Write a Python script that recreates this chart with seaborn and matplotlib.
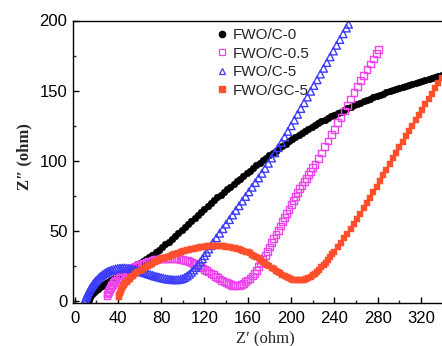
import matplotlib
matplotlib.use("Agg")
import matplotlib.pyplot as plt
import seaborn as sns
import pandas as pd
from matplotlib.lines import Line2D

# ---------------- data ----------------
c0_x = [13, 13.5, 14, 15, 16, 17, 18, 19, 20, 21, 22, 23.5, 25, 26.5, 28, 29.5, 31, 32.5, 34, 35.5,
        37, 38.5, 40, 42, 44, 46, 48, 50, 52, 54, 56, 58, 60, 63, 66, 69, 72, 75, 78, 81, 84, 87,
        90, 93, 96, 99, 102, 105, 108, 111, 114, 117, 120, 123, 126, 129, 132, 135, 138, 141, 144,
        147, 150, 153, 156, 159, 162, 165, 168, 171, 174, 177, 180, 183, 186, 189, 192, 195, 198,
        201, 204, 207, 210, 213, 216, 219, 222, 225, 228, 231, 234, 237, 240, 243, 246, 249, 252,
        255, 258, 261, 264, 267, 270, 273, 276, 279, 282, 285, 288, 291, 294, 297, 300, 303, 306,
        309, 312, 315, 318, 321, 324, 327, 330, 333, 336, 339]
c0_y = [1, 2, 3, 4, 4.8, 5.6, 6.3, 7, 7.6, 8.2, 8.8, 9.6, 10.4, 11.2, 12, 12.8, 13.5, 14.3, 15, 15.7,
        16.4, 17.1, 17.8, 18.8, 19.7, 20.6, 21.5, 22.4, 23.3, 24.2, 25.1, 26, 27, 28.4, 29.8, 31.3,
        32.9, 34.6, 36.4, 38.3, 40.3, 42.4, 44.5, 46.6, 48.7, 50.8, 52.9, 55, 57.1, 59.2, 61.3, 63.4,
        65.5, 67.6, 69.7, 71.8, 73.8, 75.8, 77.8, 79.7, 81.6, 83.5, 85.4, 87.3, 89.2, 91.1, 93, 94.8,
        96.6, 98.4, 100.2, 102, 103.8, 105.5, 107.2, 108.9, 110.6, 112.2, 113.8, 115.4, 116.9,
        118.4, 119.9, 121.3, 122.7, 124.1, 125.4, 126.7, 128, 129.3, 130.5, 131.7, 132.9, 134,
        135.1, 136.2, 137.3, 138.4, 139.4, 140.4, 141.4, 142.4, 143.4, 144.3, 145.2, 146.1, 147,
        147.9, 148.7, 149.5, 150.3, 151.1, 151.9, 152.7, 153.5, 154.2, 154.9, 155.6, 156.3, 157,
        157.7, 158.4, 159.1, 159.8, 160.5, 161.2]

c05_x = [30, 30.5, 31, 31.5, 32, 33, 34, 35, 36, 37, 38, 39.5, 41, 42.5, 44, 46, 48, 50, 52, 54,
         56, 58, 60, 62, 64, 66, 68, 70, 72, 74, 76, 78, 80, 82, 84, 86, 88, 90, 92, 94, 96, 98,
         100, 102, 104, 106, 108, 110, 112, 114, 116, 118, 120, 122, 124, 126, 128, 130, 132, 134,
         136, 138, 140, 142, 144, 146, 148, 150, 152, 154, 156, 158, 160, 162, 164, 166, 168, 170,
         172, 174, 176, 178, 180, 182, 184, 186, 188, 190, 192, 194, 196, 198, 200, 202, 204, 206,
         208, 210, 212, 214, 216, 218, 220, 222, 225, 228, 231, 234, 237, 240, 243, 246, 249, 252,
         255, 258, 261, 264, 267, 270, 273, 276, 279, 281]
c05_y = [4, 5, 6, 7, 8, 9.5, 10.8, 12, 13, 14, 14.9, 16, 17, 18, 18.9, 20, 21, 22, 22.9, 23.7,
         24.4, 25.1, 25.8, 26.4, 27, 27.5, 28, 28.5, 28.9, 29.3, 29.6, 29.9, 30.1, 30.3, 30.4, 30.5,
         30.5, 30.5, 30.4, 30.3, 30.1, 29.8, 29.5, 29.1, 28.6, 28, 27.4, 26.7, 26, 25.2, 24.4, 23.5,
         22.6, 21.6, 20.6, 19.6, 18.6, 17.6, 16.6, 15.6, 14.7, 13.8, 13, 12.3, 11.7, 11.3, 11, 11,
         11.2, 11.7, 12.5, 13.6, 15, 16.2, 17.8, 19.8, 22, 24.5, 27, 29.7, 32.5, 35.5, 38.5, 41.5,
         44.5, 47.5, 50.5, 53.5, 56.5, 59.5, 62.5, 65.5, 68.5, 71.5, 74.5, 77.5, 80, 82.5, 85, 87.5,
         90, 92.5, 95, 97.5, 101.5, 105.5, 110, 114, 118.5, 122.5, 127, 131, 135.5, 139.5, 144,
         148.5, 153, 157, 161, 165, 169, 172.5, 176.5, 179.5]

c5_x = [10, 10.5, 11, 11.5, 12, 13, 14, 15, 16, 17, 18, 19, 20, 21.5, 23, 24.5, 26, 27.5, 29, 30.5,
        32, 34, 36, 38, 40, 42, 44, 46, 48, 50, 52, 54, 56, 58, 60, 62, 64, 66, 68, 70, 72, 74, 76,
        78, 80, 82, 84, 86, 88, 90, 92, 94, 96, 98, 100, 102, 104, 106, 108, 110, 112, 114, 116,
        118, 120, 122, 124, 126, 128, 131, 134, 137, 140, 143, 146, 149, 152, 155, 158, 161, 164,
        167, 170, 173, 176, 179, 182, 185, 188, 191, 194, 197, 200, 203, 206, 209, 212, 215, 218,
        221, 224, 227, 230, 233, 236, 239, 242, 245, 248, 251, 253]
c5_y = [1, 2, 3, 4, 5, 6.5, 8, 9.3, 10.5, 11.6, 12.6, 13.6, 14.5, 15.7, 16.8, 17.8, 18.7, 19.5,
        20.2, 20.8, 21.4, 22, 22.5, 22.9, 23.2, 23.4, 23.5, 23.5, 23.4, 23.2, 22.9, 22.6, 22.2,
        21.8, 21.3, 20.8, 20.3, 19.8, 19.3, 18.8, 18.3, 17.8, 17.4, 17, 16.6, 16.2, 15.9, 15.6,
        15.4, 15.2, 15.1, 15.1, 15.2, 15.5, 16, 16.8, 17.8, 19, 20.4, 22, 23.8, 25.7, 27.8, 30,
        32.3, 34.6, 37, 39.4, 41.8, 45, 48.3, 51.5, 54.8, 58, 61.3, 64.6, 67.9, 71.2, 74.5, 77.8,
        81.1, 84.4, 87.7, 91, 94.5, 98.2, 101.9, 105.6, 109.3, 113, 116.9, 120.9, 124.9, 129,
        133.1, 137.2, 141.3, 145.4, 149.5, 153.6, 157.7, 161.8, 165.9, 170, 174.1, 178.2, 182.3,
        186.4, 190.5, 194.6, 197.3]

gc5_x = [41, 41.5, 42, 42.5, 43, 44, 45, 46, 47, 48, 49.5, 51, 52.5, 54, 56, 58, 60, 62, 64, 66,
         68, 70, 72, 74, 76, 78, 80, 82, 84, 86, 88, 90, 92, 94, 96, 98, 100, 102, 104, 106, 108,
         110, 112, 114, 116, 118, 120, 122, 124, 126, 128, 130, 132, 134, 136, 138, 140, 142, 144,
         146, 148, 150, 152, 154, 156, 158, 160, 162, 164, 166, 168, 170, 172, 174, 176, 178, 180,
         182, 184, 186, 188, 190, 192, 194, 196, 198, 200, 202, 204, 206, 208, 210, 212, 214, 216,
         218, 220, 222, 224, 226, 228, 230, 232, 234, 236, 238, 240, 243, 246, 249, 252, 255, 258,
         261, 264, 267, 270, 273, 276, 279, 282, 285, 288, 291, 294, 297, 300, 303, 306, 309, 312,
         315, 318, 321, 324, 327, 330, 333, 336, 339]
gc5_y = [3, 4.5, 6, 7, 8, 9.3, 10.5, 11.6, 12.6, 13.5, 14.8, 16, 17.1, 18.1, 19.3, 20.4, 21.4,
         22.4, 23.3, 24.2, 25.1, 25.9, 26.7, 27.5, 28.2, 28.9, 29.6, 30.3, 30.9, 31.5, 32.1, 32.7,
         33.3, 33.8, 34.3, 34.8, 35.3, 35.8, 36.2, 36.6, 37, 37.4, 37.7, 38, 38.3, 38.6, 38.8, 39,
         39.2, 39.3, 39.4, 39.4, 39.4, 39.3, 39.2, 39, 38.8, 38.6, 38.3, 38, 37.6, 37.2, 36.8, 36.3,
         35.8, 35.2, 34.6, 33.9, 33.1, 32.2, 31.3, 30.3, 29.2, 28.1, 27, 25.9, 24.8, 23.7, 22.6,
         21.5, 20.5, 19.6, 18.7, 17.9, 17.1, 16.4, 15.8, 15.3, 14.9, 14.7, 14.6, 14.7, 15, 15.5,
         16.2, 17.1, 18.2, 19.4, 20.8, 22.3, 23.9, 25.6, 27.4, 29.3, 31.2, 33.2, 35.2, 38.3, 41.5,
         44.8, 48.1, 51.5, 55, 58.6, 62.3, 66, 69.8, 73.7, 77.6, 81.6, 85.6, 89.6, 93.6, 97.6,
         101.6, 105.6, 109.5, 113.4, 117.3, 121.2, 125, 128.8, 132.6, 136.4, 140.2, 144, 147.8,
         151.6, 155.4, 159.2]

labels = ["FWO/C-0", "FWO/C-0.5", "FWO/C-5", "FWO/GC-5"]
colors = ["#000000", "#ee44ee", "#3c3cff", "#ff4f2c"]

# ---------------- figure ----------------
sns.set_theme(style="ticks")
plt.rcParams["font.family"] = ["Liberation Sans", "DejaVu Sans"]

W, H = 442, 346
fig = plt.figure(figsize=(W / 100, H / 100), dpi=100)
left, right, top, bottom = 73, 442, 20.5, 302.5
ax = fig.add_axes([left / W, (H - bottom) / H, (right - left) / W, (bottom - top) / H])

series = [
    (c0_x, c0_y, dict(marker="o", s=24, color=colors[0], edgecolor=colors[0], linewidth=0.3)),
    (c05_x, c05_y, dict(marker="s", s=24, facecolor="none", edgecolor=colors[1], linewidth=1.0)),
    (c5_x, c5_y, dict(marker="^", s=30, facecolor="none", edgecolor=colors[2], linewidth=1.0)),
    (gc5_x, gc5_y, dict(marker="s", s=22, color=colors[3], edgecolor=colors[3], linewidth=0.3)),
]
for (xs, ys, kw), lab in zip(series, labels):
    df = pd.DataFrame({"x": xs, "y": ys})
    sns.scatterplot(data=df, x="x", y="y", ax=ax, label=lab, legend=False, **kw)

ax.set_xlim(-1.4, 339.3)
ax.set_ylim(-1.1, 200)
ax.set_xticks(range(0, 321, 40))
ax.set_xticks(range(20, 340, 40), minor=True)
ax.set_yticks(range(0, 201, 50))
ax.set_yticks(range(25, 200, 50), minor=True)
ax.tick_params(axis="both", which="major", direction="in", length=4, width=1.0,
               labelsize=12, colors="black", top=False, right=False)
ax.tick_params(axis="both", which="minor", direction="in", length=2.5, width=1.0,
               top=False, right=False)
ax.tick_params(axis="x", pad=6)
ax.tick_params(axis="y", pad=4)
for sp in ["left", "bottom", "top"]:
    ax.spines[sp].set_linewidth(1.0)
    ax.spines[sp].set_color("black")
ax.spines["right"].set_visible(False)

ax.set_xlabel("Z\u2032 (ohm)", family=["Liberation Serif", "DejaVu Serif"], fontsize=12)
ax.set_ylabel("Z\u2033 (ohm)", family=["Liberation Serif", "DejaVu Serif"], fontsize=12,
              fontweight="bold")
ax.xaxis.set_label_coords((265 - left) / (right - left), -(338 - bottom) / (bottom - top))
ax.yaxis.set_label_coords(-(left - 24) / (right - left), (bottom - 157) / (bottom - top))
ax.xaxis.label.set_va("center")
ax.yaxis.label.set_va("center")

handles = [
    Line2D([], [], ls="", marker="o", ms=4.5, color=colors[0]),
    Line2D([], [], ls="", marker="s", ms=4.5, mfc="none", mec=colors[1], mew=0.9),
    Line2D([], [], ls="", marker="^", ms=4.5, mfc="none", mec=colors[2], mew=0.9),
    Line2D([], [], ls="", marker="s", ms=4.5, color=colors[3]),
]
leg = ax.legend(handles, labels, loc="upper left",
                bbox_to_anchor=(216 / W, (H - 28) / H), bbox_transform=fig.transFigure,
                frameon=False, fontsize=11, handlelength=0.8, handletextpad=0.3,
                labelspacing=0.3, borderpad=0, borderaxespad=0)

fig.savefig("out.png", dpi=100)
